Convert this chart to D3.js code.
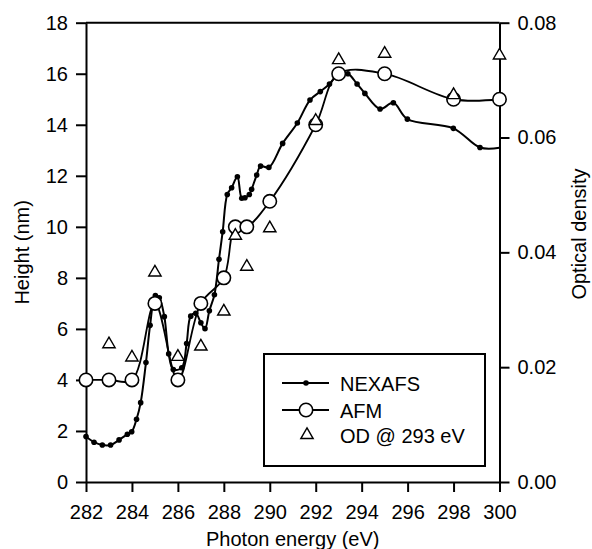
<!DOCTYPE html>
<html>
<head>
<meta charset="utf-8">
<script src="https://cdn.jsdelivr.net/npm/d3@7"></script>
<style>
body { margin: 0; background: #fff; }
text { font-family: "Liberation Sans", Arial, sans-serif; fill: #000; }
</style>
</head>
<body>
<div id="chart"></div>
<script>
// NEXAFS (height scale, nm)
var nexafsE = [282.00, 282.35, 282.71, 283.07, 283.44, 283.80, 283.99, 284.20, 284.38, 284.61,
    284.79, 285.02, 285.19, 285.41, 285.60, 285.80, 286.17, 286.38, 286.56, 286.78,
    287.00, 287.18, 287.37, 287.59, 287.79, 287.95, 288.15, 288.34, 288.59, 288.78,
    288.92, 289.11, 289.21, 289.43, 289.60, 289.96, 290.56, 291.20, 291.75, 292.20,
    292.60, 293.00, 293.40, 293.80, 294.14, 294.80, 295.38, 295.99, 297.99, 299.15, 300.00];
var nexafsH = [1.78, 1.56, 1.45, 1.45, 1.65, 1.87, 1.97, 2.46, 3.11, 4.68,
    6.14, 7.31, 7.22, 6.48, 5.02, 4.41, 4.48, 5.43, 6.50, 6.61,
    6.24, 6.01, 6.71, 7.34, 8.73, 9.81, 11.27, 11.53, 11.96, 11.12,
    11.14, 11.27, 11.47, 12.03, 12.38, 12.33, 13.27, 14.07, 14.97, 15.30,
    15.60, 16.00, 16.00, 15.60, 15.23, 14.62, 14.86, 14.22, 13.86, 13.11, 13.10];

// AFM heights (nm)
var afmE = [282, 283, 284, 285, 286, 287, 288, 288.5, 289, 290, 292, 293, 295, 298, 300];
var afmH = [4, 4, 4, 7, 4, 7, 8, 10, 10, 11, 14, 16, 16, 15, 15];

// optical density at 293 eV (right axis)
var odE = [283, 284, 285, 286, 287, 288, 288.5, 289, 290, 292, 293, 295, 298, 300];
var odV = [0.0240, 0.0217, 0.0365, 0.0218, 0.0236, 0.0297, 0.0429, 0.0375, 0.0442, 0.0629, 0.0735, 0.0746, 0.0674, 0.0743];

var xTicks = [282, 284, 286, 288, 290, 292, 294, 296, 298, 300];
var yTicks = [0, 2, 4, 6, 8, 10, 12, 14, 16, 18];
var odTicks = [0, 0.02, 0.04, 0.06, 0.08];

var legendLabels = ["NEXAFS", "AFM", "OD @ 293 eV"];

var W = 592, H = 549;
var plotL = 86, plotR = 499.5, plotT = 22.7, plotB = 482;

var svg = d3.select("#chart").append("svg")
    .attr("width", W)
    .attr("height", H);

var x = d3.scaleLinear().domain([282, 300]).range([plotL, plotR]);
var y = d3.scaleLinear().domain([0, 18]).range([plotB, plotT]);
var yOD = d3.scaleLinear().domain([0, 0.08]).range([plotB, plotT]);

// frame top line
svg.append("line")
    .attr("x1", plotL).attr("x2", plotR)
    .attr("y1", plotT).attr("y2", plotT)
    .style("stroke", "#000").style("stroke-width", 2);

var xAxis = svg.append("g")
    .attr("transform", "translate(0," + plotB + ")")
    .call(d3.axisBottom(x).tickValues(xTicks).tickSize(10).tickSizeOuter(0).tickPadding(13)
        .tickFormat(d3.format("d")));
var yAxis = svg.append("g")
    .attr("transform", "translate(" + plotL + ",0)")
    .call(d3.axisLeft(y).tickValues(yTicks).tickSize(10).tickSizeOuter(0).tickPadding(8)
        .tickFormat(d3.format("d")));
var odAxis = svg.append("g")
    .attr("transform", "translate(" + plotR + ",0)")
    .call(d3.axisRight(yOD).tickValues(odTicks).tickSize(10).tickSizeOuter(0).tickPadding(8)
        .tickFormat(d3.format(".2f")));

svg.selectAll(".domain, .tick line").style("stroke", "#000").style("stroke-width", 2);
svg.selectAll(".tick text").style("font-size", "20px").style("font-family", "'Liberation Sans', Arial, sans-serif");

svg.append("text")
    .attr("x", (plotL + plotR) / 2).attr("y", 546)
    .attr("text-anchor", "middle")
    .style("font-size", "20px")
    .text("Photon energy (eV)");
svg.append("text")
    .attr("transform", "translate(29," + ((plotT + plotB) / 2) + ") rotate(-90)")
    .attr("text-anchor", "middle")
    .style("font-size", "20px")
    .text("Height (nm)");
svg.append("text")
    .attr("transform", "translate(586,234) rotate(-90)")
    .attr("text-anchor", "middle")
    .style("font-size", "20px")
    .text("Optical density");

var nexafs = nexafsE.map(function (e, i) { return [e, nexafsH[i]]; });
var afm = afmE.map(function (e, i) { return [e, afmH[i]]; });
var od = odE.map(function (e, i) { return [e, odV[i]]; });

var line = d3.line()
    .x(function (d) { return x(d[0]); })
    .y(function (d) { return y(d[1]); })
    .curve(d3.curveCatmullRom.alpha(0.5));

svg.append("path")
    .attr("d", line(afm))
    .attr("fill", "none")
    .style("stroke", "#000").style("stroke-width", 1.8);
svg.append("path")
    .attr("d", line(nexafs))
    .attr("fill", "none")
    .style("stroke", "#000").style("stroke-width", 2);

// the end point at 300 eV sits on the axis and shows no marker
svg.selectAll(".dot").data(nexafs.slice(0, -1)).enter().append("circle")
    .attr("class", "dot")
    .attr("cx", function (d) { return x(d[0]); })
    .attr("cy", function (d) { return y(d[1]); })
    .attr("r", 2.8)
    .attr("fill", "#000");

svg.selectAll(".afm").data(afm).enter().append("circle")
    .attr("class", "afm")
    .attr("cx", function (d) { return x(d[0]); })
    .attr("cy", function (d) { return y(d[1]); })
    .attr("r", 6.7)
    .attr("fill", "#fff")
    .style("stroke", "#000").style("stroke-width", 1.6);

var tri = d3.symbol().type(d3.symbolTriangle).size(66);
svg.selectAll(".od").data(od).enter().append("path")
    .attr("class", "od")
    .attr("transform", function (d) { return "translate(" + x(d[0]) + "," + yOD(d[1]) + ")"; })
    .attr("d", tri)
    .attr("fill", "#fff")
    .style("stroke", "#000").style("stroke-width", 1.4);

// legend
var lg = svg.append("g");
lg.append("rect")
    .attr("x", 264).attr("y", 354).attr("width", 221).attr("height", 112)
    .attr("fill", "#fff")
    .style("stroke", "#000").style("stroke-width", 2);
var rowY = [383, 410, 435];
lg.append("line").attr("x1", 282).attr("x2", 329).attr("y1", rowY[0]).attr("y2", rowY[0])
    .style("stroke", "#000").style("stroke-width", 2);
lg.append("circle").attr("cx", 306).attr("cy", rowY[0]).attr("r", 2.8).attr("fill", "#000");
lg.append("line").attr("x1", 282).attr("x2", 329).attr("y1", rowY[1]).attr("y2", rowY[1])
    .style("stroke", "#000").style("stroke-width", 1.8);
lg.append("circle").attr("cx", 306).attr("cy", rowY[1]).attr("r", 6.7)
    .attr("fill", "#fff").style("stroke", "#000").style("stroke-width", 1.6);
lg.append("path").attr("transform", "translate(307," + rowY[2] + ")").attr("d", tri)
    .attr("fill", "#fff").style("stroke", "#000").style("stroke-width", 1.4);
lg.selectAll(".lt").data(legendLabels).enter().append("text")
    .attr("x", 340)
    .attr("y", function (d, i) { return rowY[i] + 8; })
    .style("font-size", "20px")
    .text(function (d) { return d; });
</script>
</body>
</html>
